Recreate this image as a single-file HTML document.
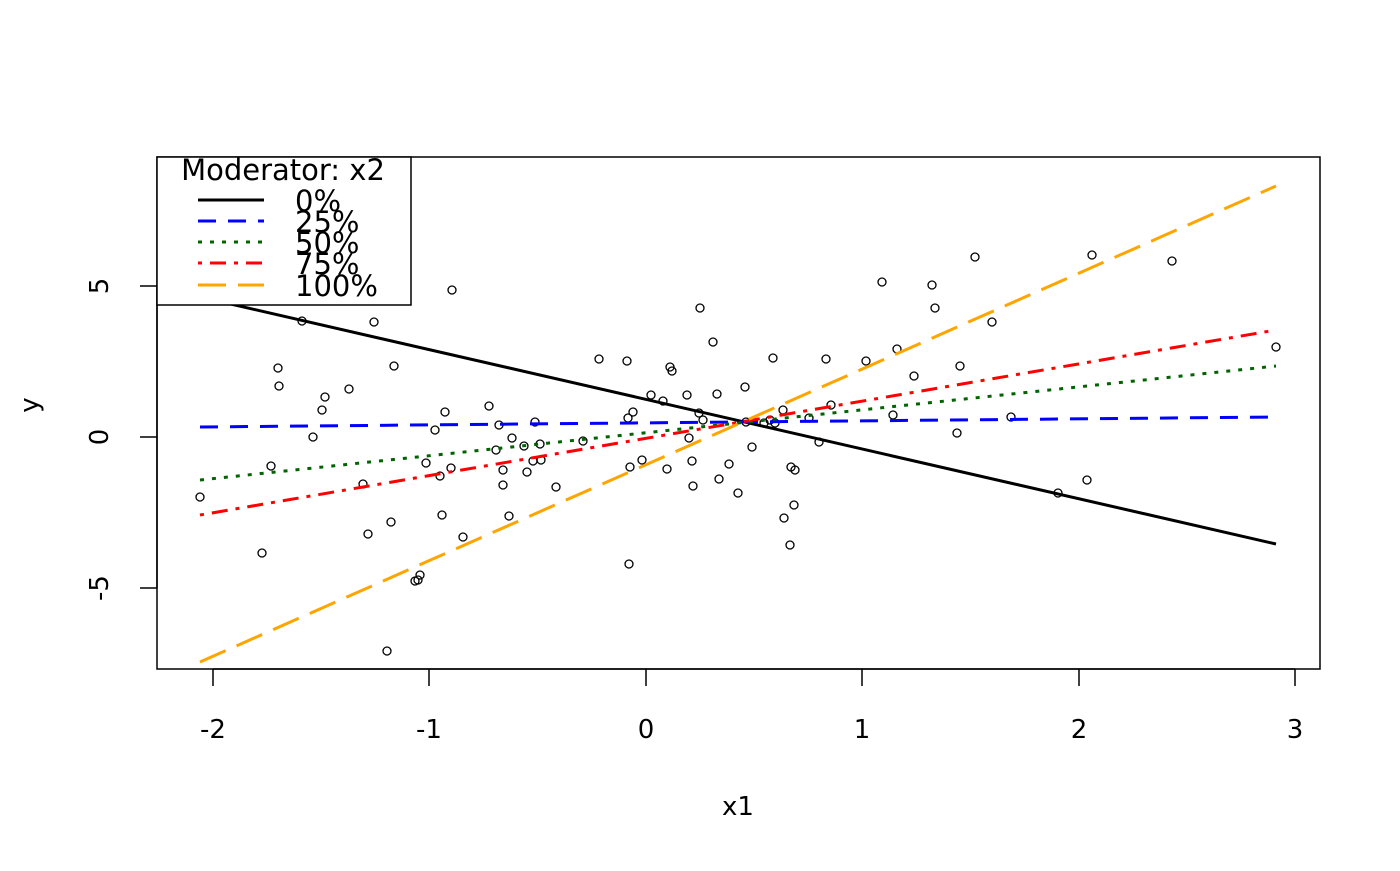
<!DOCTYPE html><html><head><style>body{margin:0;background:#fff}svg text{font-family:"DejaVu Sans","Liberation Sans",sans-serif;fill:#000}</style></head><body>
<svg width="1400" height="866" xmlns="http://www.w3.org/2000/svg">
<rect x="157" y="157" width="1163" height="512" fill="none" stroke="#000" stroke-width="1.5"/>
<g stroke="#000" stroke-width="1.5">
<line x1="213" y1="669" x2="1295" y2="669"/>
<line x1="213" y1="669" x2="213" y2="686"/><line x1="429" y1="669" x2="429" y2="686"/><line x1="646" y1="669" x2="646" y2="686"/><line x1="862" y1="669" x2="862" y2="686"/><line x1="1079" y1="669" x2="1079" y2="686"/><line x1="1295" y1="669" x2="1295" y2="686"/>
<line x1="157" y1="286" x2="157" y2="588"/>
<line x1="140" y1="286" x2="157" y2="286"/><line x1="140" y1="437" x2="157" y2="437"/><line x1="140" y1="588" x2="157" y2="588"/>
</g>
<g font-size="26" text-anchor="middle">
<text x="213" y="738">-2</text><text x="429" y="738">-1</text><text x="646" y="738">0</text><text x="862" y="738">1</text><text x="1079" y="738">2</text><text x="1295" y="738">3</text>
<text x="738" y="815">x1</text>
<text transform="translate(108,286) rotate(-90)">5</text>
<text transform="translate(108,437) rotate(-90)">0</text>
<text transform="translate(108,588) rotate(-90)">-5</text>
<text transform="translate(38,405) rotate(-90)">y</text>
</g>
<g fill="none" stroke="#000" stroke-width="1.3">
<circle cx="200" cy="497" r="4"/><circle cx="262" cy="553" r="4"/><circle cx="271" cy="466" r="4"/><circle cx="278" cy="368" r="4"/><circle cx="279" cy="386" r="4"/><circle cx="302" cy="321" r="4"/><circle cx="313" cy="437" r="4"/><circle cx="322" cy="410" r="4"/><circle cx="325" cy="397" r="4"/><circle cx="349" cy="389" r="4"/><circle cx="363" cy="484" r="4"/><circle cx="368" cy="534" r="4"/><circle cx="374" cy="322" r="4"/><circle cx="391" cy="522" r="4"/><circle cx="394" cy="366" r="4"/><circle cx="387" cy="651" r="4"/><circle cx="426" cy="463" r="4"/><circle cx="435" cy="430" r="4"/><circle cx="440" cy="476" r="4"/><circle cx="445" cy="412" r="4"/><circle cx="442" cy="515" r="4"/><circle cx="451" cy="468" r="4"/><circle cx="452" cy="290" r="4"/><circle cx="463" cy="537" r="4"/><circle cx="489" cy="406" r="4"/><circle cx="496" cy="450" r="4"/><circle cx="499" cy="425" r="4"/><circle cx="503" cy="470" r="4"/><circle cx="503" cy="485" r="4"/><circle cx="509" cy="516" r="4"/><circle cx="512" cy="438" r="4"/><circle cx="524" cy="446" r="4"/><circle cx="527" cy="472" r="4"/><circle cx="535" cy="422" r="4"/><circle cx="533" cy="461" r="4"/><circle cx="540" cy="444" r="4"/><circle cx="541" cy="460" r="4"/><circle cx="556" cy="487" r="4"/><circle cx="583" cy="441" r="4"/><circle cx="599" cy="359" r="4"/><circle cx="627" cy="361" r="4"/><circle cx="628" cy="418" r="4"/><circle cx="629" cy="564" r="4"/><circle cx="630" cy="467" r="4"/><circle cx="633" cy="412" r="4"/><circle cx="642" cy="460" r="4"/><circle cx="651" cy="395" r="4"/><circle cx="663" cy="401" r="4"/><circle cx="667" cy="469" r="4"/><circle cx="670" cy="367" r="4"/><circle cx="672" cy="371" r="4"/><circle cx="687" cy="395" r="4"/><circle cx="689" cy="438" r="4"/><circle cx="693" cy="486" r="4"/><circle cx="692" cy="461" r="4"/><circle cx="699" cy="413" r="4"/><circle cx="700" cy="308" r="4"/><circle cx="703" cy="420" r="4"/><circle cx="713" cy="342" r="4"/><circle cx="717" cy="394" r="4"/><circle cx="719" cy="479" r="4"/><circle cx="729" cy="464" r="4"/><circle cx="738" cy="493" r="4"/><circle cx="745" cy="387" r="4"/><circle cx="746" cy="422" r="4"/><circle cx="752" cy="447" r="4"/><circle cx="764" cy="423" r="4"/><circle cx="770" cy="420" r="4"/><circle cx="773" cy="358" r="4"/><circle cx="775" cy="423" r="4"/><circle cx="783" cy="410" r="4"/><circle cx="784" cy="518" r="4"/><circle cx="790" cy="545" r="4"/><circle cx="791" cy="467" r="4"/><circle cx="795" cy="470" r="4"/><circle cx="794" cy="505" r="4"/><circle cx="809" cy="418" r="4"/><circle cx="819" cy="442" r="4"/><circle cx="826" cy="359" r="4"/><circle cx="831" cy="405" r="4"/><circle cx="866" cy="361" r="4"/><circle cx="882" cy="282" r="4"/><circle cx="893" cy="415" r="4"/><circle cx="897" cy="349" r="4"/><circle cx="914" cy="376" r="4"/><circle cx="932" cy="285" r="4"/><circle cx="935" cy="308" r="4"/><circle cx="957" cy="433" r="4"/><circle cx="960" cy="366" r="4"/><circle cx="975" cy="257" r="4"/><circle cx="992" cy="322" r="4"/><circle cx="1011" cy="417" r="4"/><circle cx="1058" cy="493" r="4"/><circle cx="1087" cy="480" r="4"/><circle cx="1092" cy="255" r="4"/><circle cx="1172" cy="261" r="4"/><circle cx="1276" cy="347" r="4"/><circle cx="418" cy="580" r="4"/><circle cx="420" cy="575" r="4"/><circle cx="415" cy="581" r="4"/>
</g>
<g fill="none" stroke-width="3">
<line x1="200" y1="297" x2="1276" y2="544" stroke="#000"/>
<line x1="200" y1="427" x2="1276" y2="417" stroke="#00f" stroke-dasharray="18,12"/>
<line x1="200" y1="480" x2="1276" y2="366" stroke="#006400" stroke-dasharray="4,8"/>
<line x1="200" y1="515" x2="1276" y2="330" stroke="#f00" stroke-dasharray="4,8,16,8"/>
<line x1="200" y1="662" x2="1276" y2="186" stroke="#ffa500" stroke-dasharray="28,12"/>
</g>
<rect x="157" y="157" width="254" height="148" fill="#fff" stroke="#000" stroke-width="1.5"/>
<text x="283" y="180" font-size="29" text-anchor="middle">Moderator: x2</text>
<g stroke-width="3">
<line x1="198" y1="200" x2="264" y2="200" stroke="#000"/>
<line x1="198" y1="221" x2="264" y2="221" stroke="#00f" stroke-dasharray="18,12"/>
<line x1="198" y1="242" x2="264" y2="242" stroke="#006400" stroke-dasharray="4,8"/>
<line x1="198" y1="263" x2="264" y2="263" stroke="#f00" stroke-dasharray="4,8,16,8"/>
<line x1="198" y1="285" x2="264" y2="285" stroke="#ffa500" stroke-dasharray="28,12"/>
</g>
<g font-size="29">
<text x="295" y="211">0%</text><text x="295" y="232">25%</text><text x="295" y="253">50%</text><text x="295" y="274">75%</text><text x="295" y="296">100%</text>
</g>
</svg></body></html>
